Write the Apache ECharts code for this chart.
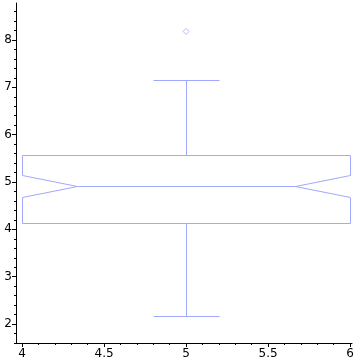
<!DOCTYPE html>
<html><head><meta charset="utf-8">
<script src="https://cdn.jsdelivr.net/npm/echarts@6/dist/echarts.min.js"></script>
<style>html,body{margin:0;padding:0;background:#fff}#c{width:362px;height:362px}</style>
</head><body><div id="c"></div>
<script>
// data
var boxCenter = [5];
var boxStats = [[2.18, 4.13, 4.92, 5.58, 7.15]]; // min, Q1, median, Q3, max
var notches = [[4.69, 5.155]];
var outliers = [[5, 8.18]];
var xTicks = [4, 4.5, 5, 5.5, 6];
var xMinor = [4.1,4.2,4.3,4.4,4.6,4.7,4.8,4.9,5.1,5.2,5.3,5.4,5.6,5.7,5.8,5.9];
var yTicks = [2, 3, 4, 5, 6, 7, 8];
var yMinor = [1.6,1.8,2.2,2.4,2.6,2.8,3.2,3.4,3.6,3.8,4.2,4.4,4.6,4.8,5.2,5.4,5.6,5.8,6.2,6.4,6.6,6.8,7.2,7.4,7.6,7.8,8.2,8.4,8.6];

var COLOR = '#a0a8ff';
var X0 = 3.963, X1 = 6.012, Y0 = 1.6, Y1 = 8.78;
var chart = echarts.init(document.getElementById('c'), null, {renderer: 'canvas'});
var lbl = {color: '#000', fontFamily: 'DejaVu Sans', fontSize: 12};
function fmt(v){ return String(+v.toFixed(2)); }
var boxData = boxCenter.map(function(c, i){ return [c].concat(boxStats[i]).concat(notches[i]); });
chart.setOption({
  animation: false,
  grid: {left: 16, right: 10, top: 3, bottom: 19, containLabel: false},
  xAxis: [
    {type: 'value', min: X0, max: X1, axisLine: {lineStyle: {color: '#000'}},
     axisTick: {customValues: xTicks, length: 4, lineStyle: {color: '#000'}},
     axisLabel: Object.assign({customValues: xTicks, margin: 5, formatter: fmt}, lbl),
     splitLine: {show: false}},
    {type: 'value', min: X0, max: X1, position: 'bottom', axisLine: {show: false},
     axisTick: {customValues: xMinor, length: 2, lineStyle: {color: '#000'}},
     axisLabel: {show: false}, splitLine: {show: false}}
  ],
  yAxis: [
    {type: 'value', min: Y0, max: Y1, axisLine: {show: true, lineStyle: {color: '#000'}},
     axisTick: {show: true, customValues: yTicks, length: 4, lineStyle: {color: '#000'}},
     axisLabel: Object.assign({customValues: yTicks, margin: 4, formatter: fmt}, lbl),
     splitLine: {show: false}},
    {type: 'value', min: Y0, max: Y1, position: 'left', axisLine: {show: false},
     axisTick: {show: true, customValues: yMinor, length: 2, lineStyle: {color: '#000'}},
     axisLabel: {show: false}, splitLine: {show: false}}
  ],
  series: [
    {type: 'custom', xAxisIndex: 0, yAxisIndex: 0, data: boxData,
     renderItem: function(params, api){
       var c = api.value(0), mn = api.value(1), q1 = api.value(2), md = api.value(3),
           q3 = api.value(4), mx = api.value(5), nl = api.value(6), nh = api.value(7);
       var hw = 1, nw = 2/3, cw = 0.2;
       function P(x, y){ var p = api.coord([x, y]); return [Math.round(p[0]) + 0.5, Math.round(p[1]) + 0.5]; }
       var style = {stroke: COLOR, lineWidth: 1, fill: null};
       var poly = [P(c-hw,q1),P(c+hw,q1),P(c+hw,nl),P(c+hw*nw,md),P(c+hw,nh),P(c+hw,q3),
                   P(c-hw,q3),P(c-hw,nh),P(c-hw*nw,md),P(c-hw,nl)];
       return {type: 'group', children: [
         {type: 'polygon', shape: {points: poly}, style: style},
         {type: 'line', shape: {x1: P(c-hw*nw,md)[0], y1: P(c,md)[1], x2: P(c+hw*nw,md)[0], y2: P(c,md)[1]}, style: style},
         {type: 'line', shape: {x1: P(c,q3)[0], y1: P(c,q3)[1], x2: P(c,mx)[0], y2: P(c,mx)[1]}, style: style},
         {type: 'line', shape: {x1: P(c,q1)[0], y1: P(c,q1)[1], x2: P(c,mn)[0], y2: P(c,mn)[1]}, style: style},
         {type: 'line', shape: {x1: P(c-cw,mx)[0], y1: P(c,mx)[1], x2: P(c+cw,mx)[0], y2: P(c,mx)[1]}, style: style},
         {type: 'line', shape: {x1: P(c-cw,mn)[0], y1: P(c,mn)[1], x2: P(c+cw,mn)[0], y2: P(c,mn)[1]}, style: style}
       ]};
     }},
    {type: 'scatter', xAxisIndex: 0, yAxisIndex: 0, data: outliers, symbol: 'diamond', symbolSize: 6,
     itemStyle: {color: '#fff', borderColor: COLOR, borderWidth: 1}}
  ]
});
</script></body></html>
